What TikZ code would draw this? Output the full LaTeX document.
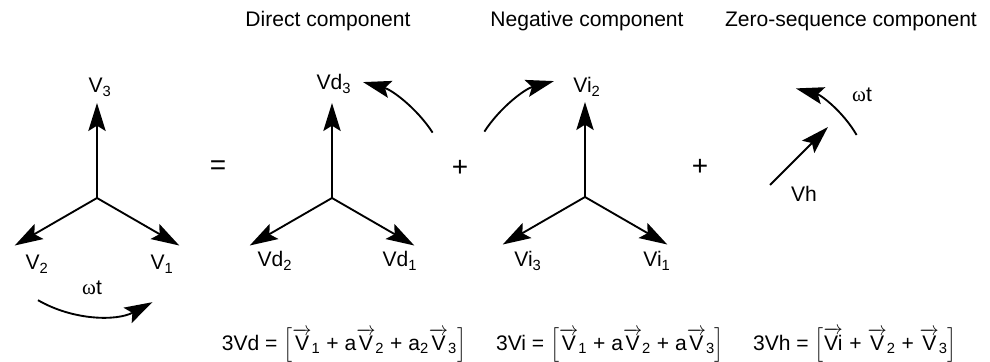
\documentclass[tikz,border=0pt]{standalone}
\usepackage{amsmath}
\usepackage{fontspec}
\setmainfont{Liberation Sans}
\newfontfamily\omegafont{Liberation Serif}
\usetikzlibrary{arrows.meta}
\newcommand{\vv}[2]{$\overrightarrow{\mbox{#1}}$\textsubscript{#2}}
\newcommand{\wt}{{\omegafont ω}t}

\begin{document}
\begin{tikzpicture}[x=0.75pt,y=0.75pt,font=\fontsize{15.8}{19}\selectfont,
  >={Stealth[length=21pt,width=13pt,inset=4pt]},
  vec/.style={->,line width=1.4pt},
  lbl/.style={inner sep=0pt,anchor=base},
  op/.style={inner sep=0pt,font=\fontsize{21}{24}\selectfont}]
  \useasboundingbox (0,0) rectangle (990,361);
  \def\L{95}

  % titles
  \node[lbl] (tdir) at (328,334) {Direct component};
  \node[lbl] (tneg) at (587,334) {Negative component};
  \node[lbl] (tzero) at (851,334) {Zero-sequence component};

  % phase system
  \coordinate (o0) at (97,163);
  \coordinate (v03) at ([shift={(90:\L)}]o0);
  \coordinate (v02) at ([shift={(210:\L)}]o0);
  \coordinate (v01) at ([shift={(330:\L)}]o0);
  \draw[vec] (o0) -- (v03);
  \draw[vec] (o0) -- (v02);
  \draw[vec] (o0) -- (v01);
  \node[lbl] (l03) at (100,268) {V\textsubscript{3}};
  \node[lbl] (l02) at (37,91) {V\textsubscript{2}};
  \node[lbl] (l01) at (162,91) {V\textsubscript{1}};
  \coordinate (w0) at ([shift={(240:118)}]o0);
  \draw[vec] (w0) arc[start angle=240,end angle=298,radius=118];
  \node[lbl] (lw0) at (92,66) {\wt};

  \node[op] (eq) at (218,193) {=};

  % direct component
  \coordinate (o1) at (332,163);
  \coordinate (v13) at ([shift={(90:\L)}]o1);
  \coordinate (v12) at ([shift={(210:\L)}]o1);
  \coordinate (v11) at ([shift={(330:\L)}]o1);
  \draw[vec] (o1) -- (v13);
  \draw[vec] (o1) -- (v12);
  \draw[vec] (o1) -- (v11);
  \node[lbl] (l13) at (334,271) {Vd\textsubscript{3}};
  \node[lbl] (l12) at (275,94) {Vd\textsubscript{2}};
  \node[lbl] (l11) at (400,94) {Vd\textsubscript{1}};
  \coordinate (w1) at ([shift={(33:120)}]o1);
  \draw[vec] (w1) arc[start angle=33,end angle=75,radius=120];

  \node[op] (plus1) at (460,193) {+};

  % negative component
  \coordinate (o2) at (585,164);
  \coordinate (v22) at ([shift={(90:\L)}]o2);
  \coordinate (v23) at ([shift={(210:\L)}]o2);
  \coordinate (v21) at ([shift={(330:\L)}]o2);
  \draw[vec] (o2) -- (v22);
  \draw[vec] (o2) -- (v23);
  \draw[vec] (o2) -- (v21);
  \node[lbl] (l22) at (587,268) {Vi\textsubscript{2}};
  \node[lbl] (l23) at (528,94) {Vi\textsubscript{3}};
  \node[lbl] (l21) at (657,94) {Vi\textsubscript{1}};
  \coordinate (w2) at ([shift={(147:120)}]o2);
  \draw[vec] (w2) arc[start angle=147,end angle=105,radius=120];

  \node[op] (plus2) at (700,194) {+};

  % zero-sequence component
  \coordinate (o3) at (770,176);
  \coordinate (vh) at ([shift={(45:82)}]o3);
  \draw[vec] (o3) -- (vh);
  \node[lbl] (lh) at (804,159) {Vh};
  \coordinate (w3) at ([shift={(30:100)}]o3);
  \draw[vec] (w3) arc[start angle=30,end angle=75,radius=100];
  \node[lbl] (lw3) at (862,259) {\wt};

  % equations
  \node[lbl] (eqd) at (344,11)
    {3Vd = $\Bigl[$\vv{V}{1} + a\vv{V}{2} + a\textsubscript{2}\vv{V}{3}$\Bigr]$};
  \node[lbl] (eqi) at (610,11)
    {3Vi = $\Bigl[$\vv{V}{1} + a\vv{V}{2} + a\vv{V}{3}$\Bigr]$};
  \node[lbl] (eqh) at (855,11)
    {3Vh = $\Bigl[$\vv{Vi}{} + \vv{V}{2} + \vv{V}{3}$\Bigr]$};

\end{tikzpicture}
\end{document}
